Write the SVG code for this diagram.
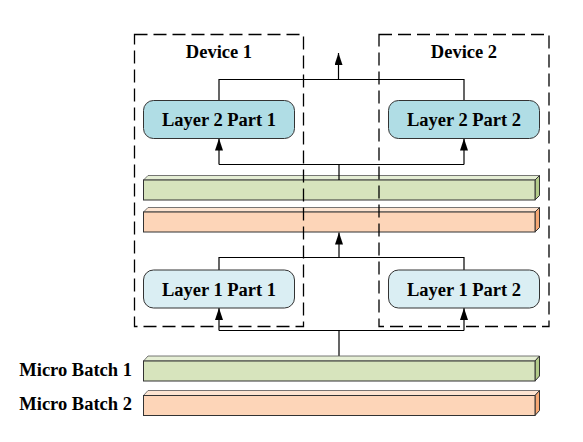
<svg xmlns="http://www.w3.org/2000/svg" width="583" height="442" viewBox="0 0 583 442">
<style>
.dev{fill:none;stroke:#000;stroke-width:1.3;stroke-dasharray:13,6}
.l2{fill:#b0dde5;stroke:#333;stroke-width:1}
.l1{fill:#daeef3;stroke:#333;stroke-width:1}
.t{font-family:"Liberation Serif",serif;font-weight:bold;font-size:18.5px;fill:#000}
.c{stroke:#000;stroke-width:1.2;fill:none}
.gf{fill:#d7e4bd;stroke:#333;stroke-width:1}
.gt{fill:#e5eed4;stroke:#555;stroke-width:0.8}
.gs{fill:#b3cb8a;stroke:#333;stroke-width:1}
.sf{fill:#fdd5b8;stroke:#333;stroke-width:1}
.st{fill:#fde4d1;stroke:#555;stroke-width:0.8}
.ss{fill:#f6a874;stroke:#333;stroke-width:1}
</style>
<defs>
<marker id="ah" viewBox="0 0 12 8" refX="12" refY="4" markerWidth="12" markerHeight="8" markerUnits="userSpaceOnUse" orient="auto">
<path d="M0,0 L12,4 L0,8 Z" fill="#000"/>
</marker>
</defs>
<rect width="583" height="442" fill="#fff"/>

<g id="bar-mid-green">
<path class="gt" d="M143.5,180 L148,175.5 L539.5,175.5 L535,180 Z"/>
<path class="gs" d="M535,180 L539.5,175.5 L539.5,195.5 L535,200 Z"/>
<rect class="gf" x="143.5" y="180" width="391.5" height="20"/>
</g>
<g id="bar-mid-salmon">
<path class="st" d="M143.5,212 L148,207.5 L539.5,207.5 L535,212 Z"/>
<path class="ss" d="M535,212 L539.5,207.5 L539.5,227.5 L535,232 Z"/>
<rect class="sf" x="143.5" y="212" width="391.5" height="20"/>
</g>

<g id="device1"><rect class="dev" x="134.5" y="34.5" width="169" height="292"/><text class="t" x="219" y="57.5" text-anchor="middle">Device 1</text></g>
<g id="device2"><rect class="dev" x="379" y="34.5" width="170" height="292"/><text class="t" x="464" y="57.5" text-anchor="middle">Device 2</text></g>

<g id="connectors">
<path class="c" d="M219,100.5 V79.5 H464 V100.5"/>
<path class="c" d="M338.5,79.5 V53" marker-end="url(#ah)"/>
<path class="c" d="M339,180 V164.5 M219,164.5 H464"/>
<path class="c" d="M219,164.5 V138.5" marker-end="url(#ah)"/>
<path class="c" d="M464,164.5 V138.5" marker-end="url(#ah)"/>
<path class="c" d="M219,270 V257.5 H464 V270"/>
<path class="c" d="M339,257.5 V232.5" marker-end="url(#ah)"/>
<path class="c" d="M339,360.5 V330.5 M219,330.5 H464"/>
<path class="c" d="M219,330.5 V308" marker-end="url(#ah)"/>
<path class="c" d="M464,330.5 V308" marker-end="url(#ah)"/>
</g>

<g id="layer2part1"><rect class="l2" x="143.5" y="100.5" width="151" height="38" rx="10"/><text class="t" x="219" y="125.5" text-anchor="middle">Layer 2 Part 1</text></g>
<g id="layer2part2"><rect class="l2" x="388.5" y="100.5" width="151" height="38" rx="10"/><text class="t" x="464" y="125.5" text-anchor="middle">Layer 2 Part 2</text></g>
<g id="layer1part1"><rect class="l1" x="143.5" y="270" width="151" height="38" rx="10"/><text class="t" x="219" y="295.5" text-anchor="middle">Layer 1 Part 1</text></g>
<g id="layer1part2"><rect class="l1" x="388.5" y="270" width="151" height="38" rx="10"/><text class="t" x="464" y="295.5" text-anchor="middle">Layer 1 Part 2</text></g>

<g id="microbatch1">
<path class="gt" d="M143.5,361 L148,356 L539.5,356 L535,361 Z"/>
<path class="gs" d="M535,361 L539.5,356 L539.5,376 L535,381 Z"/>
<rect class="gf" x="143.5" y="361" width="391.5" height="20"/>
<text class="t" x="132" y="376" text-anchor="end">Micro Batch 1</text>
</g>
<g id="microbatch2">
<path class="st" d="M143.5,395.5 L148,390.5 L539.5,390.5 L535,395.5 Z"/>
<path class="ss" d="M535,395.5 L539.5,390.5 L539.5,410.5 L535,415.5 Z"/>
<rect class="sf" x="143.5" y="395.5" width="391.5" height="20"/>
<text class="t" x="132" y="410" text-anchor="end">Micro Batch 2</text>
</g>
</svg>
